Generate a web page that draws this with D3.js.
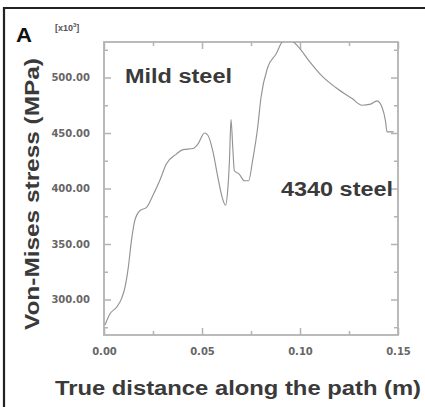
<!DOCTYPE html>
<html><head><meta charset="utf-8">
<script src="https://cdn.jsdelivr.net/npm/d3@7"></script>
<style>body{margin:0;background:#fff}svg{display:block}</style>
</head><body><svg id="c" width="425" height="407"></svg>
<script>
const distance = [0.0005,0.003,0.0064,0.009,0.0107,0.0124,0.014,0.0157,0.0183,0.0217,0.025,0.0284,0.0318,0.0369,0.0403,0.0454,0.0479,0.0513,0.053,0.0555,0.0581,0.0603,0.062,0.0631,0.064,0.0648,0.0657,0.0665,0.069,0.0716,0.0738,0.0758,0.0784,0.0801,0.0835,0.0877,0.092,0.0945,0.0995,0.1046,0.1114,0.1182,0.1266,0.1317,0.136,0.1393,0.1419,0.1436,0.1444,0.1478];
const stress = [277,287,293,301,311,329,353,371,380,383,394,407,422,431,435,436,440,450,448,434,410,392,385,398,425,462,437,416,413,407,407,425,455,482,509,521,534,534,527,515,501,491,481,475,476,479,473,461,451,451];
const xMajor = [0, 0.05, 0.10, 0.15];
const xMajorLabels = ["0.00","0.05","0.10","0.15"];
const xMinor = [0.025, 0.075, 0.125];
const yMajor = [300, 350, 400, 450, 500];
const yMajorLabels = ["300.00","350.00","400.00","450.00","500.00"];
const yMinor = [275, 325, 375, 425, 475, 525];

const svg = d3.select("#c");
const L=104, R=398, T=42, B=335;
const x = d3.scaleLinear().domain([0,0.15]).range([L,R]);
const y = d3.scaleLinear().domain([268,532]).range([B,T]);
const F = "'Liberation Sans', Arial, sans-serif";

svg.append("path").attr("d","M4,430 L4,8 L430,8").attr("fill","none").attr("stroke","#222").attr("stroke-width",2.2);

svg.append("text").attr("x",16).attr("y",42).attr("font-family",F).attr("font-weight","bold")
  .attr("font-size",21).attr("fill","#111").attr("textLength",16).attr("lengthAdjust","spacingAndGlyphs").text("A");
const ex = svg.append("text").attr("x",55).attr("y",31).attr("font-family",F).attr("font-weight","bold")
  .attr("font-size",9).attr("fill","#555");
ex.append("tspan").text("[x10");
ex.append("tspan").attr("dy",-4).attr("font-size",6).text("3");
ex.append("tspan").attr("dy",4).text("]");

const g = svg.append("g");
const fc = "#b3b3b3";
svg.append("clipPath").attr("id","clip").append("rect").attr("x",L).attr("y",T).attr("width",R-L).attr("height",B-T);

const axB = d3.axisBottom(x).tickValues(xMajor).tickSize(-7).tickFormat((d,i)=>xMajorLabels[i]).tickPadding(13);
const axT = d3.axisTop(x).tickValues(xMajor).tickSize(-7).tickFormat("");
const axL = d3.axisLeft(y).tickValues(yMajor).tickSize(-7).tickFormat((d,i)=>yMajorLabels[i]).tickPadding(14);
const axR = d3.axisRight(y).tickValues(yMajor).tickSize(-7).tickFormat("");
const axBm = d3.axisBottom(x).tickValues(xMinor).tickSize(-4).tickFormat("");
const axTm = d3.axisTop(x).tickValues(xMinor).tickSize(-4).tickFormat("");
const axLm = d3.axisLeft(y).tickValues(yMinor).tickSize(-4).tickFormat("");
const axRm = d3.axisRight(y).tickValues(yMinor).tickSize(-4).tickFormat("");

function style(sel){
  sel.select(".domain").remove();
  sel.selectAll("line").attr("stroke",fc).attr("stroke-width",1.5);
  sel.selectAll("text").attr("font-family","'DejaVu Sans', sans-serif").attr("font-weight","bold").attr("font-size",10).attr("fill","#666");
}
g.append("g").attr("transform",`translate(0,${B})`).call(axB).call(style);
g.append("g").attr("transform",`translate(0,${T})`).call(axT).call(style);
g.append("g").attr("transform",`translate(${L},0)`).call(axL).call(style);
g.append("g").attr("transform",`translate(${R},0)`).call(axR).call(style);
g.append("g").attr("transform",`translate(0,${B})`).call(axBm).call(style);
g.append("g").attr("transform",`translate(0,${T})`).call(axTm).call(style);
g.append("g").attr("transform",`translate(${L},0)`).call(axLm).call(style);
g.append("g").attr("transform",`translate(${R},0)`).call(axRm).call(style);

g.append("rect").attr("x",L).attr("y",T).attr("width",R-L).attr("height",B-T)
  .attr("fill","none").attr("stroke",fc).attr("stroke-width",1.8);

const pts = distance.map((d,i)=>[d,stress[i]]);
g.append("path").datum(pts).attr("clip-path","url(#clip)")
  .attr("d",d3.line().x(d=>x(d[0])).y(d=>y(d[1])).curve(d3.curveMonotoneX))
  .attr("fill","none").attr("stroke","#939393").attr("stroke-width",1.15);

function label(txt,xx,yy,len,fs){
  return svg.append("text").attr("x",xx).attr("y",yy).attr("font-family",F).attr("font-weight","bold")
    .attr("font-size",fs).attr("fill","#3a3a3a").attr("textLength",len).attr("lengthAdjust","spacingAndGlyphs").text(txt);
}
label("Mild steel",125,83,107,19.5);
label("4340 steel",281,196,112,19.5);
label("True distance along the path (m)",55,395,366,20);
svg.append("text").attr("transform","translate(39,330) rotate(-90)").attr("font-family",F)
  .attr("font-weight","bold").attr("font-size",20.5).attr("fill","#3a3a3a")
  .attr("textLength",272).attr("lengthAdjust","spacingAndGlyphs").text("Von-Mises stress (MPa)");
</script></body></html>
